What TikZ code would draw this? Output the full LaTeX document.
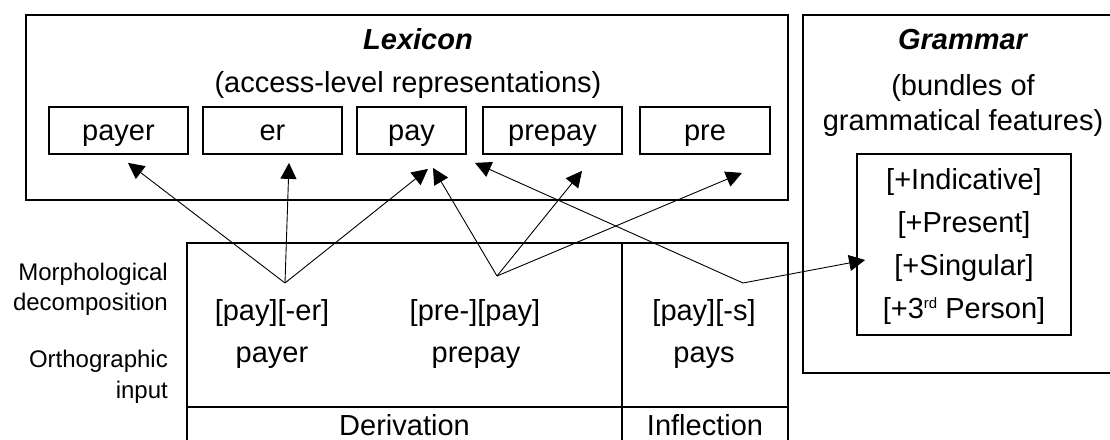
\documentclass[tikz,border=0pt]{standalone}
\usepackage{fontspec}
\setmainfont{Liberation Sans}
\usetikzlibrary{arrows.meta,calc}
\newcommand\bigtxt{\fontsize{29}{35}\selectfont}
\newcommand\smalltxt{\fontsize{24}{29}\selectfont}
\newcommand\supsm[1]{\raisebox{9.5pt}{\fontsize{15}{18}\selectfont #1}}
\begin{document}
\begin{tikzpicture}[x=1pt,y=-1pt,
  frame/.style={draw, line width=1.8pt},
  cell/.style={frame, minimum width=#1, minimum height=47pt, inner sep=0pt, text height=21pt, text depth=2pt, font=\bigtxt},
  txt/.style={inner sep=0pt, anchor=base, font=\bigtxt},
  ttl/.style={inner sep=0pt, anchor=base, font=\bigtxt\bfseries\itshape},
  side/.style={inner sep=0pt, anchor=base east, font=\smalltxt},
  arr/.style={line width=0.9pt, -{Triangle[length=16pt,width=16pt]}}]
\useasboundingbox (0,0) rectangle (1110,439);
\fill[white] (0,0) rectangle (1110,439);
\begin{scope}
\clip (0,0) rectangle (1110,439);
% Lexicon
\node[frame, minimum width=762pt, minimum height=185pt, inner sep=0pt] (lexicon) at (407,107.5) {};
\node[ttl] (lextitle) at (418,49) {Lexicon};
\node[txt] (lexsub) at (408,92) {(access-level representations)};
\node[cell=139pt] (payer) at (118.5,130.5) {payer};
\node[cell=139pt] (er) at (272.5,130.5) {er};
\node[cell=109pt] (pay) at (411.5,130.5) {pay};
\node[cell=139pt] (prepay) at (552.5,130.5) {prepay};
\node[cell=130pt] (pre) at (705,130.5) {pre};
% Grammar
\node[frame, minimum width=320pt, minimum height=358pt, inner sep=0pt] (grammar) at (963,194) {};
\node[ttl] (gramtitle) at (962.5,49) {Grammar};
\node[txt] (gramsub1) at (963,95) {(bundles of};
\node[txt] (gramsub2) at (963,130) {grammatical features)};
\node[frame, minimum width=214pt, minimum height=181pt, inner sep=0pt] (feat) at (964,244.5) {};
\node[txt] (f1) at (964,189) {[+Indicative]};
\node[txt] (f2) at (964,232) {[+Present]};
\node[txt] (f3) at (964,275) {[+Singular]};
\node[txt] (f4) at (964,318) {[+3\supsm{rd} Person]};
% Table
\draw[frame] (187,445) -- (187,243) -- (788,243) -- (788,445);
\draw[frame] (622,243) -- (622,445);
\draw[frame] (187,407) -- (788,407);
\node[side] (m1) at (168,280) {Morphological};
\node[side] (m2) at (168,310) {decomposition};
\node[side] (o1) at (168,367) {Orthographic};
\node[side] (o2) at (168,398) {input};
\node[txt] (d1) at (272,320) {[pay][-er]};
\node[txt] (d2) at (272,362) {payer};
\node[txt] (d3) at (475,320) {[pre-][pay]};
\node[txt] (d4) at (476,362) {prepay};
\node[txt] (i1) at (704,320) {[pay][-s]};
\node[txt] (i2) at (704,362) {pays};
\node[txt] (der) at (404.5,435) {Derivation};
\node[txt] (inf) at (705,435) {Inflection};
% Connectors
\coordinate (A) at (285,283);
\coordinate (B) at (497,276);
\coordinate (C) at (743,283);
\draw[arr] (A) -- ($(payer.south)+(9.5,8)$);
\draw[arr] (A) -- ($(er.south)+(16.5,8)$);
\draw[arr] (A) -- ($(pay.south)+(16.5,14)$);
\draw[arr] (B) -- ($(pay.south)+(21.5,13)$);
\draw[arr] (B) -- ($(prepay.south)+(29.5,16)$);
\draw[arr] (B) -- ($(pre.south)+(37,18)$);
\draw[arr] (C) -- ($(pay.south)+(63.5,8)$);
\draw[arr] (C) -- ($(feat.west)+(9,15.5)$);
\end{scope}
\end{tikzpicture}
\end{document}
